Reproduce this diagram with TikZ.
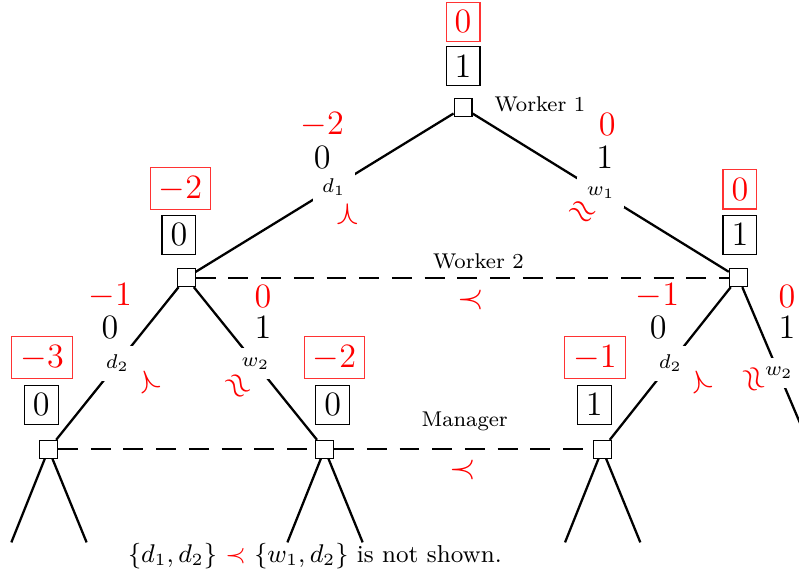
\documentclass[tikz,border=0pt]{standalone}
\usepackage{amsmath,amssymb}
\usepackage{tikz}
\usepackage{xcolor}
\usetikzlibrary{arrows.meta,positioning,calc}

\newcommand{\valsize}{\fontsize{11.5}{13.8}\selectfont}
\newcommand{\plsize}{\fontsize{7.5}{9}\selectfont}

\begin{document}
\begin{tikzpicture}[
    >=Latex,
    game/.style={rectangle,draw,fill=white,minimum size=2.2mm,inner sep=0pt},
    val/.style={rectangle,draw,inner sep=3pt,font=\valsize},
    rval/.style={val,draw=red!80,text=red},
    act/.style={fill=white,font=\scriptsize},
    pay/.style={inner sep=1pt,font=\valsize},
    rpay/.style={pay,text=red},
    pref/.style={text=red,inner sep=0pt,font=\valsize},
    edge/.style={thick},
    info/.style={thick,dash pattern=on 7pt off 4.5pt},
    player/.style={font=\plsize}]
  \useasboundingbox (-5.72,-5.83) rectangle (4.15,1.33);
  % ---- decision nodes ----
  \node[game] (root) at (0,0) {};                % Worker 1
  \node[game] (wl) at (-3.42,-2.10) {};          % Worker 2 after d1
  \node[game] (wr) at (3.40,-2.10) {};           % Worker 2 after w1
  \node[game] (ml) at (-5.12,-4.22) {};          % Manager
  \node[game] (mm) at (-1.71,-4.22) {};
  \node[game] (mr) at (1.72,-4.22) {};
  \coordinate (wrw) at (4.30,-4.22);             % off the page
  % ---- value boxes (black) and red ones above ----
  \node[val]  (v0)  at (0,0.51) {$1$};
  \node[rval] (r0)  at (0,1.06) {$0$};
  \node[val]  (vwl) at (-3.51,-1.57) {$0$};
  \node[rval] (rwl) at (-3.49,-1.00) {$-2$};
  \node[val]  (vwr) at (3.42,-1.57) {$1$};
  \node[rval] (rwr) at (3.42,-1.01) {$0$};
  \node[val]  (vml) at (-5.21,-3.67) {$0$};
  \node[rval] (rml) at (-5.20,-3.09) {$-3$};
  \node[val]  (vmm) at (-1.61,-3.67) {$0$};
  \node[rval] (rmm) at (-1.59,-3.09) {$-2$};
  \node[val]  (vmr) at (1.62,-3.67) {$1$};
  \node[rval] (rmr) at (1.63,-3.09) {$-1$};
  % ---- players ----
  \node[player] (p1) at (0.95,0.04) {Worker 1};
  \node[player] (p2) at (0.19,-1.90) {Worker 2};
  \node[player] (p3) at (0.02,-3.87) {Manager};
  % ---- moves ----
  \draw[edge] (root) -- node[act,pos=0.465] (a1) {$d_1$} (wl);
  \draw[edge] (root) -- node[act] (b1) {$w_1$} (wr);
  \draw[edge] (wl) -- node[act] (a2) {$d_2$} (ml);
  \draw[edge] (wl) -- node[act] (b2) {$w_2$} (mm);
  \draw[edge] (wr) -- node[act] (c2) {$d_2$} (mr);
  \draw[edge] (wr) -- node[act,pos=0.53] (e2) {$w_2$} (wrw);
  % information sets
  \draw[info] (wl) -- (wr);
  \draw[info] (ml) -- (mm);
  \draw[info] (mm) -- (mr);
  % ---- payoffs on the moves ----
  \node[pay]  (pa1) at (-1.74,-0.61) {$0$};
  \node[rpay] (qa1) at (-1.74,-0.21) {$-2$};
  \node[pay]  (pb1) at (1.75,-0.61) {$1$};
  \node[rpay] (qb1) at (1.78,-0.21) {$0$};
  \node[pay]  (pa2) at (-4.36,-2.72) {$0$};
  \node[rpay] (qa2) at (-4.36,-2.33) {$-1$};
  \node[pay]  (pb2) at (-2.47,-2.72) {$1$};
  \node[rpay] (qb2) at (-2.47,-2.33) {$0$};
  \node[pay]  (pc2) at (2.41,-2.72) {$0$};
  \node[rpay] (qc2) at (2.40,-2.33) {$-1$};
  \node[pay]  (pe2) at (4.00,-2.72) {$1$};
  \node[rpay] (qe2) at (4.00,-2.33) {$0$};
  % ---- preferences ----
  \node[pref,rotate=90]  (s1) at (-1.43,-1.32) {$\succ$};
  \node[pref,rotate=-32] (t1) at (1.47,-1.30) {$\approx$};
  \node[pref,rotate=110] (s2) at (-3.89,-3.38) {$\succ$};
  \node[pref,rotate=-51] (t2) at (-2.79,-3.44) {$\approx$};
  \node[pref,rotate=110] (s3) at (2.93,-3.38) {$\succ$};
  \node[pref,rotate=-68] (t3) at (3.58,-3.36) {$\approx$};
  \node[pref] (h1) at (0.09,-2.37) {$\prec$};
  \node[pref] (h2) at (0,-4.47) {$\prec$};
  % ---- leaves ----
  \foreach \m in {ml,mm,mr} {
    \coordinate (\m-l) at ($(\m)+(-0.46,-1.15)$);
    \coordinate (\m-r) at ($(\m)+(0.47,-1.15)$);
    \draw[edge] (\m) -- (\m-l);
    \draw[edge] (\m) -- (\m-r);
  }
  \node[font=\fontsize{8.6}{10}\selectfont] (note) at (-1.83,-5.54)
    {$\{d_1,d_2\}$ \textcolor{red}{$\prec$} $\{w_1,d_2\}$ is not shown.};
\end{tikzpicture}
\end{document}
